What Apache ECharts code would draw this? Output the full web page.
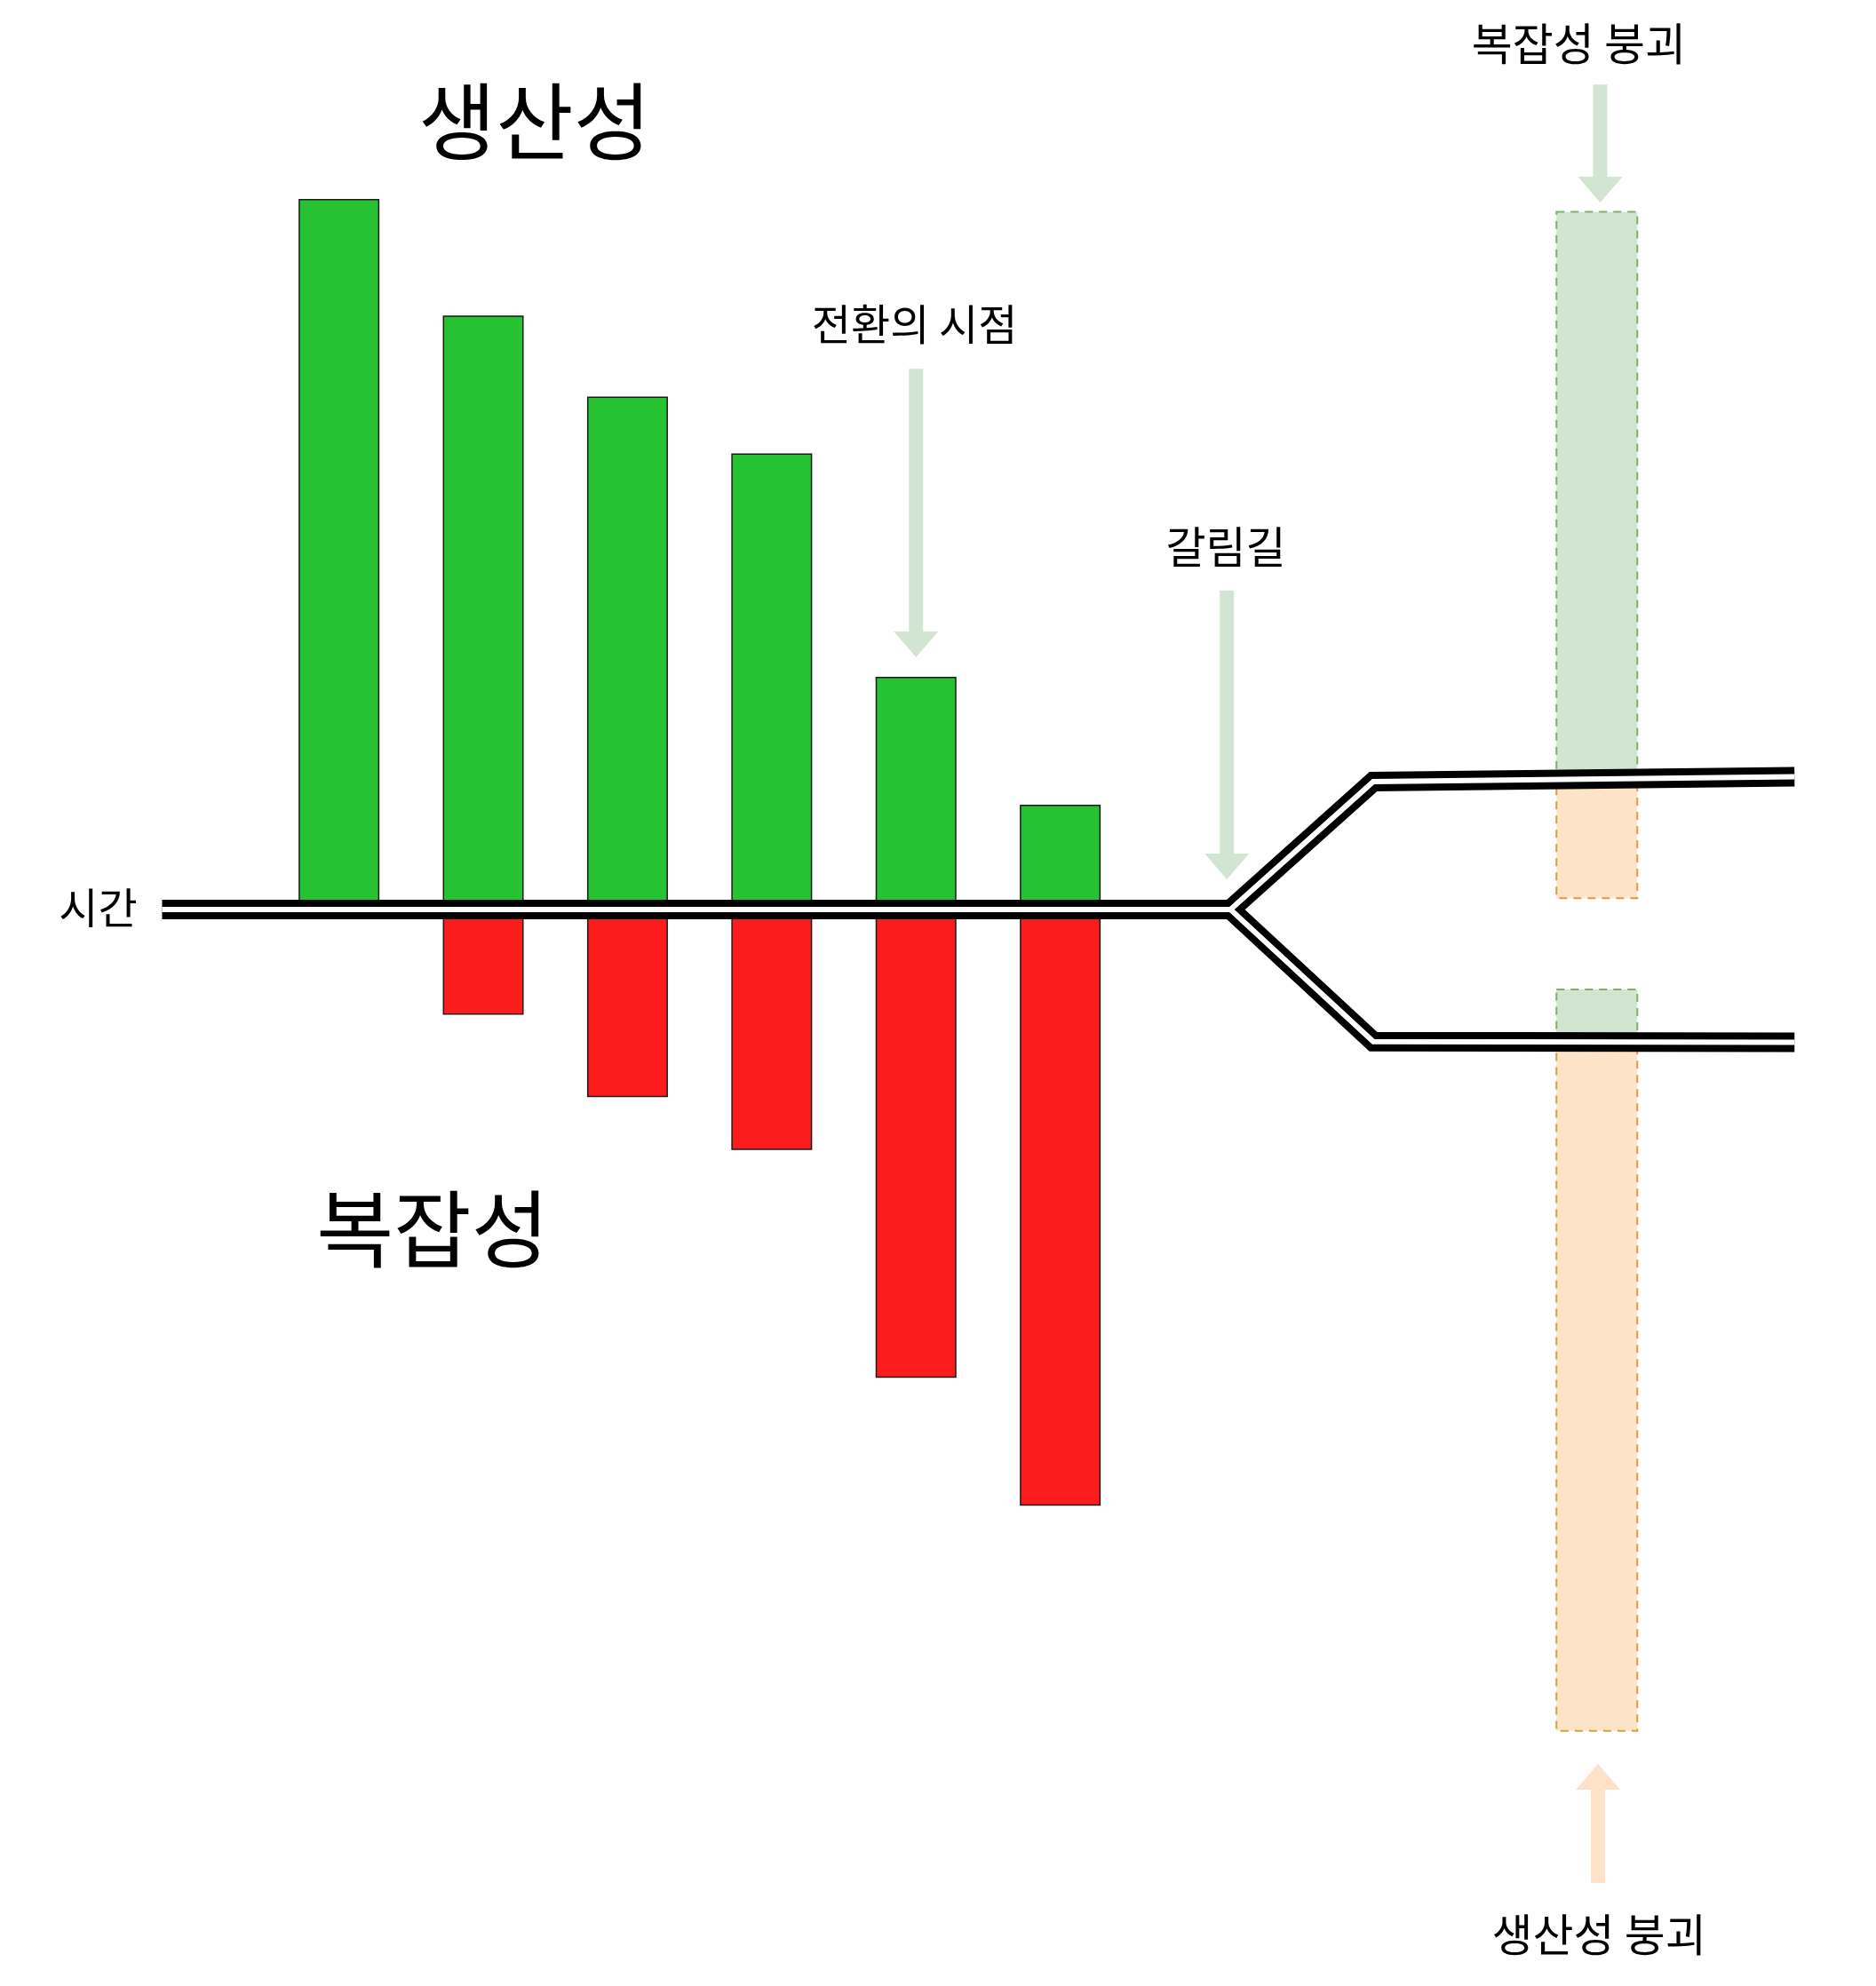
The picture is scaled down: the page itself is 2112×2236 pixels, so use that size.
<!DOCTYPE html>
<html>
<head>
<meta charset="utf-8">
<script src="https://cdn.jsdelivr.net/npm/echarts@6/dist/echarts.min.js"></script>
<style>
  html, body { margin: 0; padding: 0; background: #ffffff; }
  #chart { width: 2112px; height: 2236px; }
</style>
</head>
<body>
<div id="chart"></div>
<script>
// ---- data (time steps on x, index value on y; 0 = the time line) ----
const periods = [1, 2, 3, 4, 5, 6];
const productivity = [100, 83.6, 72.2, 64.2, 32.75, 14.75];
const complexity = [0, -14.8, -26.4, -33.85, -65.9, -83.9];

// time line and its fork
const upperBranch = [[-0.225, 0], [7.18, 0], [8.17, 18.0], [11.09, 18.7]];
const lowerBranch = [[-0.225, 0], [7.18, 0], [8.17, -18.6], [11.09, -18.7]];

// ghost (collapse) bars: [time, from, to]
const ghostProductivity = [[9.72, 18.37, 98.2], [9.72, -18.65, -11.25]];
const ghostComplexity = [[9.72, 18.37, 1.6], [9.72, -18.65, -115.6]];

// arrows: [time, tail, tip]
const arrowsGreen = [[5.0, 76.1, 35.5], [7.155, 44.9, 4.25], [9.743, 116.1, 99.5]];
const arrowsOrange = [[9.728, -137, -120.25]];

// text annotations
const labelTexts = ['생산성', '복잡성', '시간', '전환의 시점', '갈림길', '복잡성 붕괴', '생산성 붕괴'];
const labelAnchors = [[2.357, 110.9], [1.649, -44.94], [-0.67, 0.3], [4.99, 82.4], [7.148, 51.1], [9.595, 121.9], [9.734, -144.25]];
const labelFontSizes = [95, 95, 48, 48, 49, 50, 50];

const FONT = '"Noto Sans CJK KR", "Noto Sans", sans-serif';

const chart = echarts.init(document.getElementById('chart'), null, { renderer: 'canvas' });

function ghostRender(fill, stroke) {
  return function (params, api) {
    const t = api.value(0);
    const p0 = api.coord([t, api.value(1)]);
    const p1 = api.coord([t, api.value(2)]);
    const w = 91;
    return {
      type: 'rect',
      shape: { x: p0[0] - w / 2, y: Math.min(p0[1], p1[1]), width: w, height: Math.abs(p1[1] - p0[1]) },
      style: { fill: fill, stroke: stroke, lineWidth: 2, lineDash: [9, 7] }
    };
  };
}

function arrowRender(color) {
  return function (params, api) {
    const t = api.value(0);
    const a = api.coord([t, api.value(1)]);
    const b = api.coord([t, api.value(2)]);
    const dir = b[1] > a[1] ? 1 : -1;
    const sw = 8, hw = 25, hl = 29;
    const x = a[0];
    const base = b[1] - dir * hl;
    return {
      type: 'polygon',
      shape: {
        points: [
          [x - sw, a[1]], [x + sw, a[1]], [x + sw, base], [x + hw, base],
          [x, b[1]], [x - hw, base], [x - sw, base]
        ]
      },
      style: { fill: color }
    };
  };
}

const option = {
  animation: false,
  backgroundColor: '#ffffff',
  grid: { left: 0, right: 0, top: 0, bottom: 0 },
  xAxis: { type: 'value', min: -1.35, max: 11.655, show: false },
  yAxis: { type: 'value', min: -151.5, max: 128, show: false },
  series: [
    {
      type: 'custom', z: 1, renderItem: ghostRender('#d2e5d1', '#7fb06b'),
      data: ghostProductivity, silent: true
    },
    {
      type: 'custom', z: 1, renderItem: ghostRender('#fde3c8', '#d99f3c'),
      data: ghostComplexity, silent: true
    },
    {
      name: '생산성', type: 'bar', z: 2, barWidth: 91, barGap: '-100%',
      data: periods.map((p, i) => [p, productivity[i]]),
      itemStyle: { color: '#26c232', borderColor: '#1c1c1c', borderWidth: 1.5 }
    },
    {
      name: '복잡성', type: 'bar', z: 2, barWidth: 91, barGap: '-100%',
      data: periods.map((p, i) => [p, complexity[i]]),
      itemStyle: { color: '#fb1c1c', borderColor: '#1c1c1c', borderWidth: 1.5 }
    },
    {
      type: 'line', z: 3, data: upperBranch, showSymbol: false, symbol: 'none',
      lineStyle: { color: '#000000', width: 22, cap: 'butt', join: 'miter' }
    },
    {
      type: 'line', z: 3, data: lowerBranch, showSymbol: false, symbol: 'none',
      lineStyle: { color: '#000000', width: 22, cap: 'butt', join: 'miter' }
    },
    {
      type: 'line', z: 4, data: upperBranch, showSymbol: false, symbol: 'none',
      lineStyle: { color: '#ffffff', width: 6, cap: 'butt', join: 'miter' }
    },
    {
      type: 'line', z: 4, data: lowerBranch, showSymbol: false, symbol: 'none',
      lineStyle: { color: '#ffffff', width: 6, cap: 'butt', join: 'miter' }
    },
    {
      type: 'custom', z: 5, renderItem: arrowRender('#d2e5d2'), data: arrowsGreen, silent: true
    },
    {
      type: 'custom', z: 5, renderItem: arrowRender('#fde2c8'), data: arrowsOrange, silent: true
    },
    {
      type: 'custom', z: 6, silent: true,
      data: labelAnchors,
      renderItem: function (params, api) {
        const p = api.coord([api.value(0), api.value(1)]);
        const i = params.dataIndex;
        return {
          type: 'text',
          style: {
            text: labelTexts[i], x: p[0], y: p[1],
            align: 'center', verticalAlign: 'middle',
            fontSize: labelFontSizes[i], fontFamily: FONT, fill: '#000000'
          }
        };
      }
    }
  ]
};

chart.setOption(option);
</script>
</body>
</html>
